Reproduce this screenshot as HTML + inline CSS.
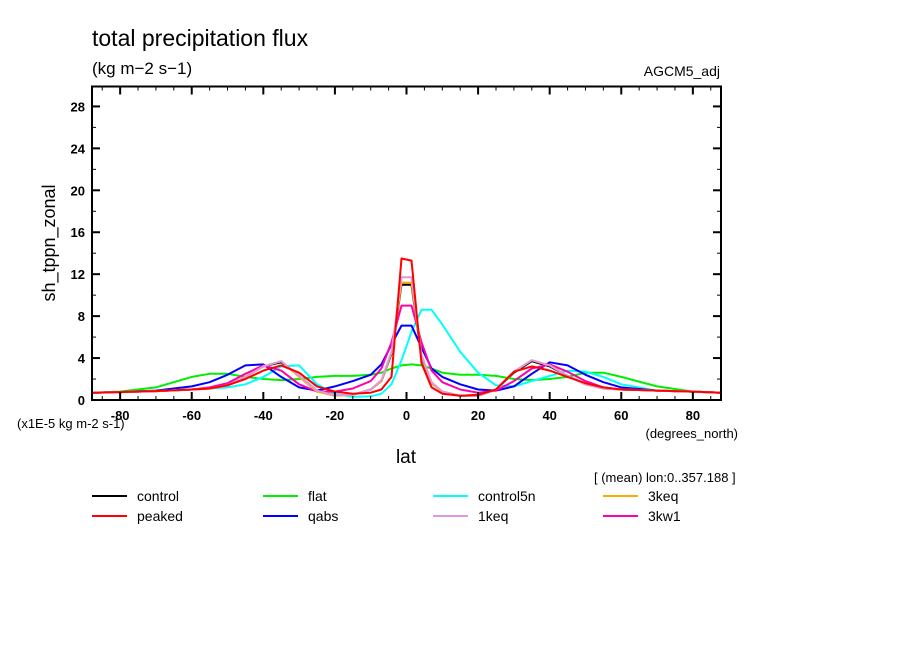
<!DOCTYPE html>
<html><head><meta charset="utf-8"><style>
html,body{margin:0;padding:0;background:#fff;}
svg{display:block;font-family:"Liberation Sans",sans-serif;}
</style></head><body>
<svg id="chart" width="904" height="654" xmlns="http://www.w3.org/2000/svg">
<text x="92" y="46" font-size="23">total precipitation flux</text>
<text x="92" y="74" font-size="17">(kg m−2 s−1)</text>
<text x="720" y="76" font-size="14" text-anchor="end">AGCM5_adj</text>
<text transform="translate(55,243) rotate(-90)" font-size="18" text-anchor="middle">sh_tppn_zonal</text>
<text x="17" y="428" font-size="13">(x1E-5 kg m-2 s-1)</text>
<text x="738" y="438" font-size="13" text-anchor="end">(degrees_north)</text>
<text x="406" y="463" font-size="19" text-anchor="middle">lat</text>
<text x="594" y="482" font-size="13">[ (mean) lon:0..357.188 ]</text>
<g id="plot"></g>
<g id="axes"></g>
<g id="legend"></g>
</svg>
<script>
const lats=[-88,-80,-70,-60,-55,-50,-45,-40,-35,-30,-25,-20,-15,-10,-7,-4.2,-1.4,1.4,4.2,7,10,15,20,25,30,35,40,45,50,55,60,70,80,88];
const control=[0.7,0.75,0.85,1.0,1.1,1.4,2.2,3.2,3.6,2.3,0.9,0.45,0.5,1.0,1.8,4.4,11.0,11.0,4.1,1.6,0.8,0.4,0.4,1.0,2.6,3.7,3.2,2.3,1.5,1.1,1.0,0.9,0.8,0.7];
const peaked=[0.7,0.75,0.85,1.0,1.1,1.4,2.0,2.8,3.3,2.6,1.3,0.8,0.6,0.7,1.0,2.2,13.5,13.3,3.5,1.2,0.6,0.4,0.5,1.0,2.7,3.2,2.8,2.2,1.6,1.2,1.0,0.9,0.8,0.7];
const flat=[0.7,0.8,1.2,2.2,2.5,2.5,2.2,2.0,1.9,2.0,2.2,2.3,2.3,2.4,2.6,3.0,3.3,3.4,3.3,3.0,2.6,2.4,2.4,2.3,2.0,1.9,2.0,2.2,2.6,2.6,2.2,1.3,0.8,0.7];
const control5n=[0.7,0.75,0.85,1.0,1.1,1.2,1.5,2.2,3.2,3.3,1.5,0.6,0.3,0.35,0.6,1.5,3.8,6.5,8.6,8.6,7.2,4.6,2.6,1.4,1.3,1.8,2.3,2.8,2.7,2.2,1.5,0.9,0.8,0.7];
const qabs=[0.7,0.75,0.9,1.3,1.7,2.4,3.3,3.4,2.2,1.2,0.9,1.3,1.8,2.4,3.4,5.3,7.1,7.1,5.0,3.0,2.2,1.5,1.0,0.9,1.3,2.5,3.6,3.3,2.4,1.7,1.2,0.9,0.8,0.7];
const keq1=[0.7,0.75,0.85,1.0,1.1,1.4,2.2,3.2,3.7,2.3,0.9,0.45,0.5,1.0,1.9,4.6,11.7,11.7,4.3,1.7,0.8,0.4,0.4,1.0,2.7,3.8,3.3,2.3,1.5,1.1,1.0,0.9,0.8,0.7];
const keq3=[0.7,0.75,0.85,1.0,1.1,1.4,2.2,3.2,3.7,2.2,0.8,0.4,0.5,1.0,1.8,4.5,11.2,11.2,4.2,1.6,0.8,0.4,0.4,1.0,2.7,3.8,3.3,2.3,1.5,1.1,1.0,0.9,0.8,0.7];
const kw3=[0.7,0.75,0.85,1.0,1.2,1.6,2.5,3.3,2.8,1.5,0.8,0.8,1.1,1.8,3.0,5.5,9.0,9.0,5.5,2.8,1.7,1.0,0.7,0.9,1.8,3.0,3.4,2.7,1.8,1.2,1.0,0.9,0.8,0.7];
const xTicks=[-80,-60,-40,-20,0,20,40,60,80];
const yTicks=[0,4,8,12,16,20,24,28];
const seriesNames=["control","peaked","flat","qabs","control5n","1keq","3keq","3kw1"];
const seriesColors=["#000000","#ff0000","#00ee00","#0000ff","#00ffff","#dd99dd","#ffaa00","#ff00aa"];
const seriesData={control,peaked,flat,qabs,control5n:control5n,"1keq":keq1,"3keq":keq3,"3kw1":kw3};

const X0=92,X1=721,Y0=400,Y1=86.5,LMIN=-87.86,LMAX=87.86,VMAX=29.9;
const sx=v=>X0+(v-LMIN)/(LMAX-LMIN)*(X1-X0);
const sy=v=>Y0-(v/VMAX)*(Y0-Y1);
const NS="http://www.w3.org/2000/svg";
function mk(tag,attrs,parent){const e=document.createElementNS(NS,tag);for(const k in attrs)e.setAttribute(k,attrs[k]);parent.appendChild(e);return e;}
const plot=document.getElementById('plot'),axes=document.getElementById('axes'),legend=document.getElementById('legend');
// draw order: control first, so others on top
const order=["control","flat","control5n","qabs","3kw1","3keq","1keq","peaked"];
order.forEach(n=>{
  const i=seriesNames.indexOf(n);
  const vals=seriesData[n];
  const d=lats.map((la,j)=>(j?'L':'M')+sx(la).toFixed(1)+','+sy(vals[j]).toFixed(1)).join(' ');
  const p=mk('path',{d:d,fill:'none',stroke:seriesColors[i],'stroke-width':2,'stroke-linejoin':'round'},plot);
  
  
});
// frame
const fr=mk('rect',{x:X0,y:Y1,width:X1-X0,height:Y0-Y1,fill:'none',stroke:'#000','stroke-width':2},axes);


// x ticks
for(let v=-85;v<=85;v+=5){
  const major=v%20===0, L=major?8:4, x=sx(v);
  mk('line',{x1:x,y1:Y0,x2:x,y2:Y0-L,stroke:'#000','stroke-width':major?2:1},axes);
  mk('line',{x1:x,y1:Y1,x2:x,y2:Y1+L,stroke:'#000','stroke-width':major?2:1},axes);
}
xTicks.forEach(v=>{
  const t=mk('text',{x:sx(v),y:Y0+20,'font-size':13,'font-weight':'bold','text-anchor':'middle'},axes);
  t.textContent=v;
  
  
});
for(let v=2;v<=28;v+=2){
  const major=v%4===0,L=major?8:4,y=sy(v);
  mk('line',{x1:X0,y1:y,x2:X0+L,y2:y,stroke:'#000','stroke-width':major?2:1},axes);
  mk('line',{x1:X1,y1:y,x2:X1-L,y2:y,stroke:'#000','stroke-width':major?2:1},axes);
}
yTicks.forEach(v=>{
  const t=mk('text',{x:X0-7,y:sy(v)+5,'font-size':13,'font-weight':'bold','text-anchor':'end'},axes);
  t.textContent=v;
  
  
});
// legend
const lx=[92,263,433,603];
seriesNames.forEach((n,i)=>{
  const col=i>>1,row=i%2;
  const g=mk('g',{},legend);
  
  
  const y=496+row*20;
  mk('line',{x1:lx[col],y1:y,x2:lx[col]+35,y2:y,stroke:seriesColors[i],'stroke-width':2},g);
  const t=mk('text',{x:lx[col]+45,y:y+5,'font-size':14},g);
  t.textContent=n;
});
</script>
</body></html>
